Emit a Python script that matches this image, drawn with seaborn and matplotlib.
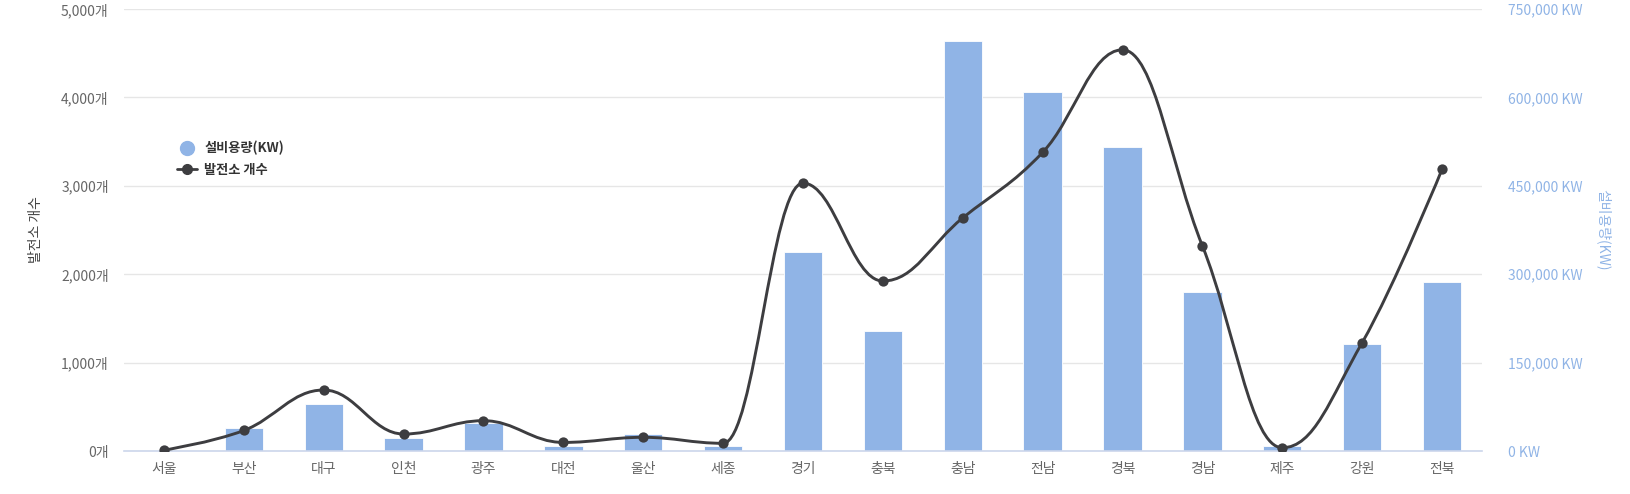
import numpy as np
import pandas as pd
import matplotlib
matplotlib.use('Agg')
import matplotlib.pyplot as plt
from matplotlib.path import Path
from matplotlib.patches import PathPatch
from matplotlib.lines import Line2D
from matplotlib.ticker import FuncFormatter, MultipleLocator
import seaborn as sns

# data
regions = ['서울', '부산', '대구', '인천', '광주', '대전', '울산', '세종', '경기',
           '충북', '충남', '전남', '경북', '경남', '제주', '강원', '전북']
capacity_kw = [0, 38500, 79500, 21500, 47500, 9000, 28000, 9000, 338000,
               203500, 696000, 609500, 516000, 270000, 9000, 181000, 286000]
plant_count = [10, 232, 690, 192, 343, 97, 155, 87, 3030,
               1923, 2637, 3378, 4538, 2320, 37, 1226, 3188]

bar_color = '#90b4e6'
line_color = '#3d3d40'
grid_color = '#e6e6e6'

sns.set_style('white')
plt.rcParams['font.family'] = ['Noto Sans CJK KR', 'DejaVu Sans']


def spline_path(xs, ys, smoothing=1.5):
    # same control point rule as a highcharts "spline" series
    n = len(xs)
    denom = smoothing + 1
    left = [None] * n
    right = [None] * n
    for i in range(1, n - 1):
        lx, ly = xs[i - 1], ys[i - 1]
        px, py = xs[i], ys[i]
        nx, ny = xs[i + 1], ys[i + 1]
        lcx = (smoothing * px + lx) / denom
        lcy = (smoothing * py + ly) / denom
        rcx = (smoothing * px + nx) / denom
        rcy = (smoothing * py + ny) / denom
        corr = 0
        if rcx != lcx:
            corr = (rcy - lcy) * (rcx - px) / (rcx - lcx) + py - rcy
        lcy += corr
        rcy += corr
        if lcy > ly and lcy > py:
            lcy = max(ly, py)
            rcy = 2 * py - lcy
        elif lcy < ly and lcy < py:
            lcy = min(ly, py)
            rcy = 2 * py - lcy
        if rcy > ny and rcy > py:
            rcy = max(ny, py)
            lcy = 2 * py - rcy
        elif rcy < ny and rcy < py:
            rcy = min(ny, py)
            lcy = 2 * py - rcy
        left[i] = (lcx, lcy)
        right[i] = (rcx, rcy)
    verts = [(xs[0], ys[0])]
    codes = [Path.MOVETO]
    for i in range(1, n):
        c1 = right[i - 1] if right[i - 1] is not None else (xs[i - 1], ys[i - 1])
        c2 = left[i] if left[i] is not None else (xs[i], ys[i])
        verts += [c1, c2, (xs[i], ys[i])]
        codes += [Path.CURVE4] * 3
    return Path(verts, codes)


df = pd.DataFrame({'region': regions, 'capacity': capacity_kw, 'count': plant_count})

fig = plt.figure(figsize=(16.3, 4.94), dpi=100)
ax_kw = fig.add_axes([124 / 1630, 1 - 451 / 494, (1482 - 124) / 1630, (451 - 9) / 494])

sns.barplot(data=df, x='region', y='capacity', ax=ax_kw, color=bar_color,
            saturation=1, width=0.48, edgecolor='white', linewidth=0.6, zorder=2)
ax_kw.set_ylim(0, 750000)
ax_kw.set_xlim(-0.5, len(regions) - 0.5)
ax_kw.set_axisbelow(True)
ax_kw.grid(axis='y', color=grid_color, linewidth=1)
ax_kw.set_xlabel('')
for s in ['top', 'left', 'right']:
    ax_kw.spines[s].set_visible(False)
ax_kw.spines['bottom'].set_color('#ccd6eb')
ax_kw.spines['bottom'].set_linewidth(1.2)
ax_kw.spines['bottom'].set_zorder(3)

ax_cnt = ax_kw.twinx()

# twinx moves the original ticks to the left, so set sides afterwards
ax_kw.yaxis.tick_right()
ax_kw.yaxis.set_label_position('right')
ax_kw.yaxis.set_major_locator(MultipleLocator(150000))
ax_kw.yaxis.set_major_formatter(FuncFormatter(lambda v, p: f'{int(v):,} KW'))
ax_kw.tick_params(axis='y', length=0, pad=19, labelsize=10, labelcolor=bar_color)
ax_kw.tick_params(axis='x', length=0, pad=8, labelsize=10, labelcolor='#666666')
ax_kw.set_ylabel('설비용량(KW)', color=bar_color, fontsize=10, rotation=270, labelpad=20)

ax_cnt.set_ylim(0, 5000)
ax_cnt.yaxis.tick_left()
ax_cnt.yaxis.set_label_position('left')
ax_cnt.yaxis.set_major_locator(MultipleLocator(1000))
ax_cnt.yaxis.set_major_formatter(FuncFormatter(lambda v, p: f'{int(v):,}개'))
ax_cnt.tick_params(axis='y', length=0, pad=11, labelsize=10, labelcolor='#666666')
ax_cnt.set_ylabel('발전소 개수', color='#444444', fontsize=10, labelpad=13)
for s in ax_cnt.spines.values():
    s.set_visible(False)

xs = np.arange(len(regions), dtype=float)
path = spline_path(list(xs), [float(v) for v in plant_count])
ax_cnt.add_patch(PathPatch(path, facecolor='none', edgecolor=line_color, lw=2.1,
                           capstyle='round', joinstyle='round', zorder=3))
sns.scatterplot(x=xs, y=plant_count, ax=ax_cnt, color=line_color, s=55,
                edgecolor=line_color, linewidth=0, zorder=4, legend=False)

handles = [
    Line2D([], [], marker='o', linestyle='none', markersize=10, color=bar_color),
    Line2D([], [], marker='o', linestyle='-', lw=2, markersize=7, color=line_color),
]
fig.legend(handles, ['설비용량(KW)', '발전소 개수'], loc='upper left',
           bbox_to_anchor=(177 / 1630, 1 - 141 / 494), frameon=False,
           prop={'weight': 'bold', 'size': 9.5}, labelcolor='#333333',
           handlelength=1.5, handletextpad=0.55, labelspacing=0.55,
           borderpad=0, borderaxespad=0)

fig.savefig('out.png', dpi=100)
